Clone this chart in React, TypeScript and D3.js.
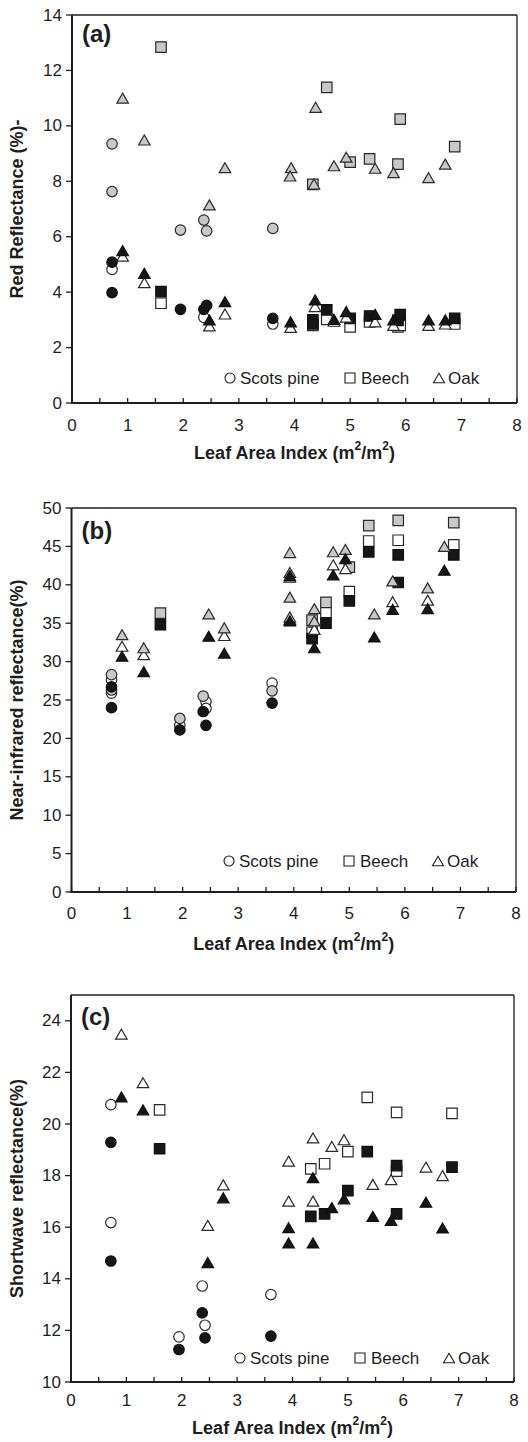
import React from 'react';
import * as d3 from 'd3';

type Pt = [number, number];

// ---------- tick values ----------
const laiTicks = [0, 1, 2, 3, 4, 5, 6, 7, 8];
const laiMinorTicks = [0, 0.5, 1, 1.5, 2, 2.5, 3, 3.5, 4, 4.5, 5, 5.5, 6, 6.5, 7, 7.5, 8];
const redTicks = [0, 2, 4, 6, 8, 10, 12, 14];
const nirTicks = [0, 5, 10, 15, 20, 25, 30, 35, 40, 45, 50];
const swTicks = [10, 12, 14, 16, 18, 20, 22, 24];

// ---------- (a) red reflectance ----------
const redPineWhite: Pt[] = [[0.72, 4.82], [2.37, 3.09], [3.61, 2.85]];
const redPineGray: Pt[] = [[0.72, 9.35], [0.72, 7.63], [1.95, 6.24], [2.37, 6.6], [2.42, 6.21], [3.61, 6.3]];
const redPineBlack: Pt[] = [[0.72, 5.08], [0.72, 3.98], [1.95, 3.38], [2.37, 3.38], [2.42, 3.52], [3.61, 3.05]];
const redBeechWhite: Pt[] = [[1.6, 3.6], [4.33, 2.8], [4.58, 3.02], [5.0, 2.75], [5.35, 2.93], [5.86, 2.75], [5.9, 2.8], [6.88, 2.85]];
const redBeechGray: Pt[] = [[1.6, 12.84], [4.33, 7.89], [4.58, 11.39], [5.0, 8.69], [5.35, 8.81], [5.86, 8.62], [5.9, 10.24], [6.88, 9.25]];
const redBeechBlack: Pt[] = [[1.6, 4.02], [4.33, 3.0], [4.33, 2.85], [4.58, 3.36], [5.0, 3.05], [5.35, 3.14], [5.86, 2.98], [5.9, 3.19], [6.88, 3.05]];
const redOakWhite: Pt[] = [[0.91, 5.3], [1.3, 4.34], [2.47, 2.78], [2.75, 3.21], [3.93, 2.73], [4.37, 3.48], [4.71, 2.95], [4.93, 3.1], [5.45, 2.93], [5.78, 2.8], [6.41, 2.8], [6.71, 2.85]];
const redOakGray: Pt[] = [[0.91, 11.0], [1.3, 9.49], [2.47, 7.15], [2.75, 8.49], [3.94, 8.49], [3.92, 8.19], [4.35, 7.9], [4.38, 10.67], [4.71, 8.56], [4.93, 8.87], [5.45, 8.47], [5.78, 8.31], [6.41, 8.13], [6.71, 8.62]];
const redOakBlack: Pt[] = [[0.91, 5.5], [1.3, 4.68], [2.47, 3.0], [2.75, 3.66], [3.93, 2.93], [4.37, 3.72], [4.71, 3.02], [4.93, 3.3], [5.45, 3.2], [5.78, 3.0], [6.41, 3.0], [6.71, 3.0]];

// ---------- (b) near-infrared reflectance ----------
const nirPineWhite: Pt[] = [[0.72, 27.6], [0.72, 25.9], [1.95, 21.7], [2.42, 24.8], [2.42, 23.9], [3.61, 27.2]];
const nirPineGray: Pt[] = [[0.72, 28.3], [0.72, 26.3], [1.95, 22.6], [2.37, 25.5], [3.61, 26.2]];
const nirPineBlack: Pt[] = [[0.72, 26.7], [0.72, 24.0], [1.95, 21.1], [2.37, 23.5], [2.42, 21.7], [3.61, 24.6]];
const nirBeechWhite: Pt[] = [[4.33, 33.8], [4.58, 36.4], [5.0, 39.1], [5.35, 45.7], [5.88, 45.8], [6.88, 45.2]];
const nirBeechGray: Pt[] = [[1.6, 36.3], [4.33, 35.4], [4.58, 37.7], [5.0, 42.3], [5.35, 47.7], [5.88, 48.4], [6.88, 48.1]];
const nirBeechBlack: Pt[] = [[1.6, 34.8], [4.33, 33.0], [4.58, 35.0], [5.0, 37.9], [5.35, 44.3], [5.88, 43.9], [5.88, 40.3], [6.88, 43.9]];
const nirOakWhite: Pt[] = [[0.91, 32.0], [1.3, 30.9], [2.75, 33.4], [3.93, 41.0], [3.93, 35.5], [4.37, 34.2], [4.71, 42.6], [4.93, 42.1], [5.78, 37.8], [6.41, 38.0]];
const nirOakGray: Pt[] = [[0.91, 33.5], [1.3, 31.8], [2.47, 36.2], [2.75, 34.4], [3.93, 44.2], [3.93, 41.6], [3.93, 38.4], [3.93, 35.8], [4.37, 36.9], [4.37, 35.3], [4.71, 44.3], [4.93, 44.6], [5.45, 36.2], [5.78, 40.5], [6.41, 39.6], [6.71, 45.0]];
const nirOakBlack: Pt[] = [[0.91, 30.7], [1.3, 28.7], [2.47, 33.3], [2.75, 31.1], [3.93, 41.2], [3.93, 35.3], [4.37, 31.8], [4.71, 41.3], [4.93, 43.4], [5.45, 33.2], [5.78, 36.8], [6.41, 36.9], [6.71, 41.9]];

// ---------- (c) shortwave reflectance ----------
const swPineWhite: Pt[] = [[0.72, 20.75], [0.72, 16.18], [1.95, 11.75], [2.37, 13.72], [2.42, 12.2], [3.61, 13.39]];
const swPineBlack: Pt[] = [[0.72, 19.29], [0.72, 14.69], [1.95, 11.26], [2.37, 12.68], [2.42, 11.71], [3.61, 11.78]];
const swBeechWhite: Pt[] = [[1.6, 20.55], [4.33, 18.26], [4.58, 18.46], [5.0, 18.93], [5.35, 21.03], [5.88, 20.45], [5.88, 18.17], [6.88, 20.41]];
const swBeechBlack: Pt[] = [[1.6, 19.04], [4.33, 16.42], [4.58, 16.52], [5.0, 17.42], [5.35, 18.93], [5.88, 18.39], [5.88, 16.52], [6.88, 18.33]];
const swOakWhite: Pt[] = [[0.91, 23.48], [1.3, 21.6], [2.47, 16.07], [2.75, 17.64], [3.93, 18.56], [3.93, 17.01], [4.37, 19.46], [4.37, 17.01], [4.71, 19.13], [4.93, 19.39], [5.45, 17.66], [5.78, 17.84], [6.41, 18.33], [6.71, 18.0]];
const swOakBlack: Pt[] = [[0.91, 21.05], [1.3, 20.55], [2.47, 14.63], [2.75, 17.14], [3.93, 15.98], [3.93, 15.39], [4.37, 17.92], [4.37, 15.39], [4.71, 16.76], [4.93, 17.1], [5.45, 16.42], [5.78, 16.26], [6.41, 16.97], [6.71, 15.97]];

const legendLabels = ['Scots pine', 'Beech', 'Oak'];

// ---------- styling ----------
const FONT = "'Liberation Sans', Arial, Helvetica, sans-serif";
const INK = '#1e1e1e';
const FILL: Record<string, string> = { white: '#ffffff', gray: '#c8c8c8', black: '#161616' };

type Shape = 'circle' | 'square' | 'triangle';
type Shade = 'white' | 'gray' | 'black';
interface Series { data: Pt[]; shape: Shape; shade: Shade }

function markerPath(shape: Shape, s: number): string {
  const p = d3.path();
  if (shape === 'circle') {
    const r = s * 0.5;
    p.moveTo(r, 0);
    p.arc(0, 0, r, 0, Math.PI * 2);
  } else if (shape === 'square') {
    const h = s * 0.5;
    p.rect(-h, -h, s, s);
  } else {
    const w = s * 1.1;
    const h = s * 0.95;
    p.moveTo(0, -h / 2);
    p.lineTo(w / 2, h / 2);
    p.lineTo(-w / 2, h / 2);
    p.closePath();
  }
  return p.toString();
}

interface PanelProps {
  left: number; right: number; top: number; bottom: number;
  yDomain: [number, number];
  yTicks: number[];
  yTitle: string;
  tag: string;
  tagY: number;
  series: Series[];
  legendY: number;
  legendX: number;
  tickLabelDy: number;
  titleDy: number;
}

function Panel(p: PanelProps) {
  const x = d3.scaleLinear().domain([0, 8]).range([p.left, p.right]);
  const y = d3.scaleLinear().domain(p.yDomain).range([p.bottom, p.top]);
  const midY = (p.top + p.bottom) / 2;
  const midX = (p.left + p.right) / 2;
  const legendItems: { shape: Shape; dx: number; tx: number }[] = [
    { shape: 'circle', dx: 0, tx: 10 },
    { shape: 'square', dx: 120, tx: 131 },
    { shape: 'triangle', dx: 209, tx: 218 },
  ];
  return (
    <g>
      {/* frame */}
      <line x1={p.left} x2={p.right} y1={p.top} y2={p.top} stroke={INK} strokeWidth={1.3} />
      <line x1={p.right} x2={p.right} y1={p.top} y2={p.bottom} stroke={INK} strokeWidth={1.3} />
      <line x1={p.left} x2={p.left} y1={p.top} y2={p.bottom + 1} stroke={INK} strokeWidth={2} />
      <line x1={p.left - 1} x2={p.right} y1={p.bottom} y2={p.bottom} stroke={INK} strokeWidth={2} />
      {/* x ticks (inside) */}
      {laiMinorTicks.map((t) => (
        <line key={'xt' + t} x1={x(t)} x2={x(t)} y1={p.bottom} y2={p.bottom - 5} stroke={INK} strokeWidth={1.3} />
      ))}
      {laiTicks.map((t) => (
        <text key={'xl' + t} x={x(t)} y={p.bottom + p.tickLabelDy} textAnchor="middle" dominantBaseline="central"
          fontFamily={FONT} fontSize={17} fill={INK}>{t}</text>
      ))}
      {/* y ticks (outside) */}
      {p.yTicks.map((t) => (
        <g key={'yt' + t}>
          <line x1={p.left - 6} x2={p.left} y1={y(t)} y2={y(t)} stroke={INK} strokeWidth={1.3} />
          <text x={p.left - 10} y={y(t)} textAnchor="end" dominantBaseline="central"
            fontFamily={FONT} fontSize={17} fill={INK}>{t}</text>
        </g>
      ))}
      {/* titles */}
      <text x={midX} y={p.bottom + p.titleDy} textAnchor="middle" dominantBaseline="central"
        fontFamily={FONT} fontSize={18} fontWeight="bold" fill={INK}>
        Leaf Area Index (m<tspan fontSize={12} dy={-7}>2</tspan><tspan dy={7}>/m</tspan><tspan fontSize={12} dy={-7}>2</tspan><tspan dy={7}>)</tspan>
      </text>
      <text transform={`translate(17,${midY}) rotate(-90)`} textAnchor="middle" dominantBaseline="central"
        fontFamily={FONT} fontSize={18} fontWeight="bold" fill={INK}>{p.yTitle}</text>
      <text x={p.left + 10} y={p.top + p.tagY} fontFamily={FONT} fontSize={24} fontWeight="bold" fill={INK}>{p.tag}</text>
      {/* markers */}
      {p.series.map((s, i) => (
        <g key={'s' + i}>
          {s.data.map((d, j) => (
            <path key={j} d={markerPath(s.shape, 10.5)} transform={`translate(${x(d[0])},${y(d[1])})`}
              fill={FILL[s.shade]} stroke={s.shade === 'black' ? '#111' : '#2a2a2a'} strokeWidth={1.2} />
          ))}
        </g>
      ))}
      {/* legend */}
      {legendItems.map((it, i) => (
        <g key={'lg' + i}>
          <path d={markerPath(it.shape, 10)} transform={`translate(${p.legendX + it.dx},${p.legendY})`}
            fill="#fff" stroke={INK} strokeWidth={1.1} />
          <text x={p.legendX + it.tx} y={p.legendY} dominantBaseline="central" fontFamily={FONT} fontSize={17} fill={INK}>
            {legendLabels[i]}
          </text>
        </g>
      ))}
    </g>
  );
}

function S(data: Pt[], shape: Shape, shade: Shade): Series {
  return { data, shape, shade };
}

export default function App() {
  const seriesA: Series[] = [
    S(redPineWhite, 'circle', 'white'), S(redPineGray, 'circle', 'gray'), S(redPineBlack, 'circle', 'black'),
    S(redBeechWhite, 'square', 'white'), S(redBeechGray, 'square', 'gray'), S(redBeechBlack, 'square', 'black'),
    S(redOakWhite, 'triangle', 'white'), S(redOakGray, 'triangle', 'gray'), S(redOakBlack, 'triangle', 'black'),
  ];
  const seriesB: Series[] = [
    S(nirPineWhite, 'circle', 'white'), S(nirPineGray, 'circle', 'gray'), S(nirPineBlack, 'circle', 'black'),
    S(nirBeechWhite, 'square', 'white'), S(nirBeechGray, 'square', 'gray'), S(nirBeechBlack, 'square', 'black'),
    S(nirOakWhite, 'triangle', 'white'), S(nirOakGray, 'triangle', 'gray'), S(nirOakBlack, 'triangle', 'black'),
  ];
  const seriesC: Series[] = [
    S(swPineWhite, 'circle', 'white'), S(swPineBlack, 'circle', 'black'),
    S(swBeechWhite, 'square', 'white'), S(swBeechBlack, 'square', 'black'),
    S(swOakWhite, 'triangle', 'white'), S(swOakBlack, 'triangle', 'black'),
  ];
  return (
    <svg width={528} height={1442} viewBox="0 0 528 1442"
      style={{ position: 'absolute', left: 0, top: 0, background: '#fff', display: 'block' }}>
      <rect x={0} y={0} width={528} height={1442} fill="#fff" />
      <Panel left={72} right={517} top={15} bottom={403} yDomain={[0, 14]} yTicks={redTicks}
        yTitle="Red Reflectance (%)-" tag="(a)" tagY={27} series={seriesA}
        legendY={378} legendX={230} tickLabelDy={22} titleDy={50} />
      <Panel left={71.5} right={516} top={508} bottom={892} yDomain={[0, 50]} yTicks={nirTicks}
        yTitle="Near-infrared reflectance(%)" tag="(b)" tagY={31} series={seriesB}
        legendY={861} legendX={229} tickLabelDy={21} titleDy={52} />
      <Panel left={71} right={514} top={995} bottom={1382} yDomain={[10, 25]} yTicks={swTicks}
        yTitle="Shortwave reflectance(%)" tag="(c)" tagY={30} series={seriesC}
        legendY={1358} legendX={240} tickLabelDy={18} titleDy={46} />
    </svg>
  );
}
